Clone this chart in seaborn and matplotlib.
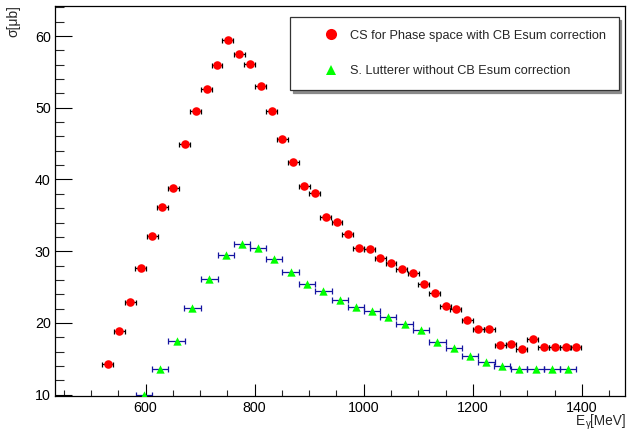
import matplotlib
matplotlib.use("Agg")
import matplotlib.pyplot as plt
from matplotlib.ticker import MultipleLocator
from matplotlib.lines import Line2D
import seaborn as sns
import pandas as pd
import numpy as np

# ---- data ----
cs_energy = [531, 552, 572, 591, 612, 631, 651, 672, 692, 712, 731, 751, 772, 791,
             811, 831, 851, 871, 891, 910, 930, 951, 971, 991, 1011, 1030, 1050,
             1070, 1091, 1110, 1130, 1150, 1169, 1190, 1210, 1230, 1250, 1270,
             1290, 1310, 1330, 1350, 1370, 1389]
cs_sigma = [14.3, 18.9, 22.9, 27.7, 32.1, 36.1, 38.8, 44.9, 49.5, 52.6, 56.0, 59.5,
            57.5, 56.1, 53.1, 49.5, 45.6, 42.4, 39.1, 38.1, 34.8, 34.1, 32.4, 30.5,
            30.3, 29.1, 28.3, 27.5, 27.0, 25.4, 24.1, 22.3, 21.9, 20.4, 19.1, 19.1,
            16.9, 17.1, 16.4, 17.8, 16.7, 16.7, 16.6, 16.7]
cs_xerr = 10

sl_energy = [597, 627, 657, 686, 717, 747, 777, 806, 836, 866, 896, 926, 956, 986,
             1015, 1045, 1075, 1105, 1135, 1165, 1195, 1225, 1254, 1285, 1315,
             1345, 1375]
sl_sigma = [10.0, 13.5, 17.5, 22.1, 26.1, 29.4, 31.0, 30.4, 28.9, 27.1, 25.4, 24.4,
            23.2, 22.2, 21.7, 20.8, 19.9, 19.0, 17.3, 16.5, 15.4, 14.6, 14.0, 13.5,
            13.6, 13.5, 13.5]
sl_xerr = 15

label_cs = "CS for Phase space with CB Esum correction"
label_sl = "S. Lutterer without CB Esum correction"

sns.set_style("white")
plt.rcParams['font.family'] = ['Liberation Sans', 'DejaVu Sans']

df_cs = pd.DataFrame({"E": cs_energy, "sigma": cs_sigma})
df_sl = pd.DataFrame({"E": sl_energy, "sigma": sl_sigma})

fig = plt.figure(figsize=(6.31, 4.30), dpi=100)
ax = fig.add_axes([55/631, 34/430, 570/631, 390/430])

ax.errorbar(cs_energy, cs_sigma, xerr=cs_xerr, fmt='none', ecolor='black',
            elinewidth=0.9, capsize=1.8, capthick=0.9, zorder=2)
ax.errorbar(sl_energy, sl_sigma, xerr=sl_xerr, fmt='none', ecolor='#1515a0',
            elinewidth=0.9, capsize=2.2, capthick=0.9, zorder=2)

sns.scatterplot(data=df_cs, x="E", y="sigma", color="#ff0000", marker="o",
                s=38, linewidth=0, ax=ax, legend=False, zorder=3)
sns.scatterplot(data=df_sl, x="E", y="sigma", color="#00ff00", marker="^",
                s=36, linewidth=0, ax=ax, legend=False, zorder=3)

ax.set_xlim(434, 1479)
ax.set_ylim(9.8, 64.2)
ax.xaxis.set_major_locator(MultipleLocator(200))
ax.xaxis.set_minor_locator(MultipleLocator(50))
ax.yaxis.set_major_locator(MultipleLocator(10))
ax.yaxis.set_minor_locator(MultipleLocator(2))
ax.tick_params(axis='y', which='major', direction='in', length=12.2, width=0.8,
               labelsize=10.3, pad=3, colors='black')
ax.tick_params(axis='y', which='minor', direction='in', length=6.5, width=0.8)
ax.tick_params(axis='x', which='major', direction='in', length=8.6, width=0.8,
               labelsize=10.3, pad=3.5, colors='black')
ax.tick_params(axis='x', which='minor', direction='in', length=4.3, width=0.8)
ax.tick_params(top=False, right=False, bottom=True, left=True, which='both')
for sp in ax.spines.values():
    sp.set_color('black')
    sp.set_linewidth(0.9)

ax.set_xlabel("")
ax.set_ylabel("")
# x-axis title "E_γ[MeV]" built from three text pieces (subscript gamma)
t_unit = fig.text(626/631, 1 - 414/430, "[MeV]", ha='right', va='top', fontsize=9.8)
ax.annotate("γ", xy=(0, 0), xycoords=t_unit, xytext=(0.3, 0.4),
            textcoords='offset points', ha='right', va='baseline', fontsize=7)
ax.annotate("E", xy=(0, 0), xycoords=t_unit, xytext=(-4.0, 0),
            textcoords='offset points', ha='right', va='bottom', fontsize=9.8)
fig.text(13/631, 1 - 5/430, "σ[μb]", ha='center', va='top', rotation=90, fontsize=10)

handles = [
    Line2D([], [], marker='o', color='none', markerfacecolor='#ff0000',
           markeredgewidth=0, markersize=8),
    Line2D([], [], marker='^', color='none', markerfacecolor='#00ff00',
           markeredgewidth=0, markersize=7.5),
]
leg = ax.legend(handles, [label_cs, label_sl], loc='upper left',
                bbox_to_anchor=((290-55)/570, (396-17)/390),
                frameon=True, fancybox=False,
                shadow={'color': '#8a8a8a', 'alpha': 1.0},
                fontsize=9.2,
                borderpad=1.0, labelspacing=1.85, handletextpad=-0.72,
                borderaxespad=0, handlelength=4.4)
leg.get_frame().set_edgecolor('#333333')
leg.get_frame().set_linewidth(0.9)

fig.savefig("out.png", dpi=100)
